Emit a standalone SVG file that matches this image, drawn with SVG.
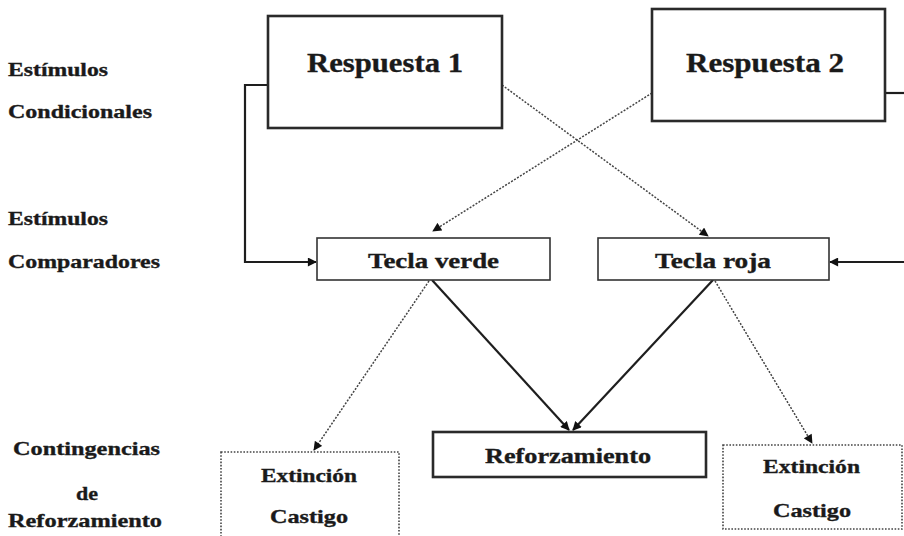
<svg xmlns="http://www.w3.org/2000/svg" width="904" height="536" viewBox="0 0 904 536">
<style>
text{font-family:"Liberation Serif","Times New Roman",serif;font-weight:bold;fill:#1a1a1a;stroke:#1a1a1a;stroke-width:0.35}
.lbl{font-size:19px}
.big{font-size:28px}
.mid{font-size:21px}
.sm{font-size:19px}
.thick{fill:#fff;stroke:#2a2a2a;stroke-width:2.6}
.thin{fill:#fff;stroke:#333;stroke-width:1.6}
.dotbox{fill:#fff;stroke:#444;stroke-width:1.6;stroke-dasharray:1.6,1.6}
.solid{fill:none;stroke:#1e1e1e;stroke-width:2.2}
.dash{fill:none;stroke:#444;stroke-width:1.5;stroke-dasharray:2,1.5}
</style>
<defs>
<marker id="ah" viewBox="0 0 10 10" refX="9" refY="5" markerWidth="10" markerHeight="9" markerUnits="userSpaceOnUse" orient="auto">
<path d="M0,0 L10,5 L0,10 z" fill="#111"/>
</marker>
</defs>
<rect width="904" height="536" fill="#fff"/>

<g id="labels">
<text class="lbl" x="8" y="76" textLength="100" lengthAdjust="spacingAndGlyphs">Estímulos</text>
<text class="lbl" x="8" y="118" textLength="144" lengthAdjust="spacingAndGlyphs">Condicionales</text>
<text class="lbl" x="8" y="225" textLength="100" lengthAdjust="spacingAndGlyphs">Estímulos</text>
<text class="lbl" x="8" y="268" textLength="152" lengthAdjust="spacingAndGlyphs">Comparadores</text>
<text class="lbl" x="13" y="455" textLength="147" lengthAdjust="spacingAndGlyphs">Contingencias</text>
<text class="lbl" x="76" y="500" textLength="22" lengthAdjust="spacingAndGlyphs">de</text>
<text class="lbl" x="8" y="527" textLength="154" lengthAdjust="spacingAndGlyphs">Reforzamiento</text>
</g>

<g id="connectors">
<polyline class="solid" points="268,85 245,85 245,262 316,262" marker-end="url(#ah)"/>
<polyline class="solid" points="885,93 904,93"/>
<line class="solid" x1="904" y1="262" x2="830" y2="262" marker-end="url(#ah)"/>
<line class="dash" x1="502" y1="85" x2="708" y2="236" marker-end="url(#ah)"/>
<line class="dash" x1="652" y1="93" x2="433" y2="231" marker-end="url(#ah)"/>
<line class="solid" x1="432" y1="280" x2="569" y2="430" marker-end="url(#ah)"/>
<line class="solid" x1="713" y1="280" x2="573" y2="430" marker-end="url(#ah)"/>
<line class="dash" x1="429" y1="281" x2="314" y2="450" marker-end="url(#ah)"/>
<line class="dash" x1="715" y1="281" x2="812" y2="443" marker-end="url(#ah)"/>
</g>

<g id="respuesta1">
<rect class="thick" x="268" y="16" width="234" height="112"/>
<text class="big" x="307" y="72" textLength="156" lengthAdjust="spacingAndGlyphs">Respuesta 1</text>
</g>
<g id="respuesta2">
<rect class="thick" x="652" y="9" width="233" height="112"/>
<text class="big" x="686" y="72" textLength="158" lengthAdjust="spacingAndGlyphs">Respuesta 2</text>
</g>
<g id="tecla-verde">
<rect class="thin" x="317" y="238" width="233" height="42"/>
<text class="mid" x="368" y="268" textLength="131" lengthAdjust="spacingAndGlyphs">Tecla verde</text>
</g>
<g id="tecla-roja">
<rect class="thin" x="598" y="238" width="231" height="42"/>
<text class="mid" x="655" y="268" textLength="116" lengthAdjust="spacingAndGlyphs">Tecla roja</text>
</g>
<g id="reforzamiento">
<rect class="thick" x="433" y="432" width="273" height="45"/>
<text class="mid" x="485" y="463" textLength="166" lengthAdjust="spacingAndGlyphs">Reforzamiento</text>
</g>
<g id="extincion-izq">
<rect class="dotbox" x="221" y="452" width="178" height="90"/>
<text class="sm" x="261" y="482" textLength="96" lengthAdjust="spacingAndGlyphs">Extinción</text>
<text class="sm" x="270" y="523" textLength="78" lengthAdjust="spacingAndGlyphs">Castigo</text>
</g>
<g id="extincion-der">
<rect class="dotbox" x="723" y="445" width="179" height="84"/>
<text class="sm" x="763" y="473" textLength="97" lengthAdjust="spacingAndGlyphs">Extinción</text>
<text class="sm" x="773" y="517" textLength="78" lengthAdjust="spacingAndGlyphs">Castigo</text>
</g>
</svg>
